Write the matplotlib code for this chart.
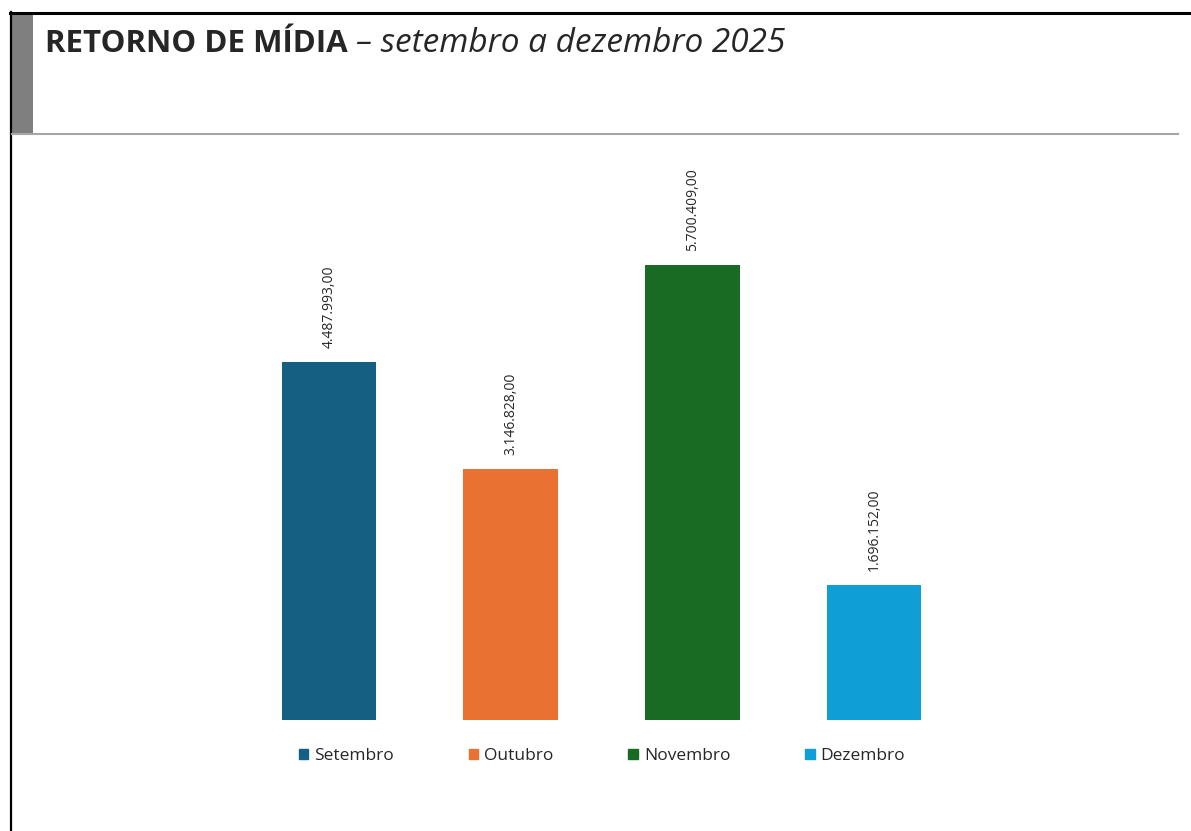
import matplotlib
matplotlib.use("Agg")
import matplotlib.pyplot as plt
from matplotlib.lines import Line2D
from matplotlib.patches import Rectangle

# monthly media return, Sep-Dec 2025
meses = ["Setembro", "Outubro", "Novembro", "Dezembro"]
retorno = [4487993.00, 3146828.00, 5700409.00, 1696152.00]
cores = ["#156082", "#E97132", "#196B24", "#0F9ED5"]

W, H = 1191, 831


def fx(px):
    return px / W


def fy(py):
    return 1 - py / H


def brl(v):
    # 4.487.993,00 style
    s = "{:,.2f}".format(v)
    return s.replace(",", "X").replace(".", ",").replace("X", ".")


fig = plt.figure(figsize=(W / 100, H / 100), dpi=100)
fig.patch.set_facecolor("white")

# page frame and header strip
fig.add_artist(Line2D([fx(10), fx(1191)], [fy(13), fy(13)], color="black", lw=2.2,
                      transform=fig.transFigure))
fig.add_artist(Line2D([fx(11), fx(11)], [fy(12), fy(831)], color="black", lw=1.6,
                      transform=fig.transFigure))
fig.add_artist(Rectangle((fx(12), fy(134)), fx(33) - fx(12), fy(14) - fy(134),
                         color="#7F7F7F", transform=fig.transFigure, lw=0))
fig.add_artist(Line2D([fx(12), fx(1178)], [fy(134), fy(134)], color="#A6A6A6", lw=1.5,
                      transform=fig.transFigure))

t1 = fig.text(fx(45), fy(52), "RETORNO DE MÍDIA", fontsize=22.5, fontweight="bold",
              family="Open Sans", color="#262626", va="baseline")
fig.canvas.draw()
bb = t1.get_window_extent()
fig.text(bb.x1 / W + fx(8), fy(52), "– setembro a dezembro 2025", fontsize=24,
         style="italic", family="Open Sans", color="#262626", va="baseline")

# chart area
x0, x1 = 220, 983
y0, y1 = 161, 720
ax = fig.add_axes([fx(x0), fy(y1), fx(x1) - fx(x0), fy(y0) - fy(y1)])
pos = list(range(len(meses)))
bars = ax.bar(pos, retorno, width=0.52, color=cores, label=meses)
ax.set_xlim(-0.6, 3.6)
ax.set_ylim(0, 7000000)
ax.axis("off")

ax.bar_label(bars, labels=[brl(v) for v in retorno], rotation=90, padding=10,
             fontsize=10, family="Open Sans", color="#262626")

handles = [Rectangle((0, 0), 1, 1, color=c) for c in cores]
fig.legend(handles, meses, loc="center", bbox_to_anchor=(fx(602), fy(756)), ncol=4,
           frameon=False, prop={"family": "Open Sans", "size": 12.5},
           handlelength=0.55, handleheight=0.55, handletextpad=0.35,
           columnspacing=4.3, labelcolor="#262626")

fig.savefig("out.png", dpi=100, facecolor="white")
